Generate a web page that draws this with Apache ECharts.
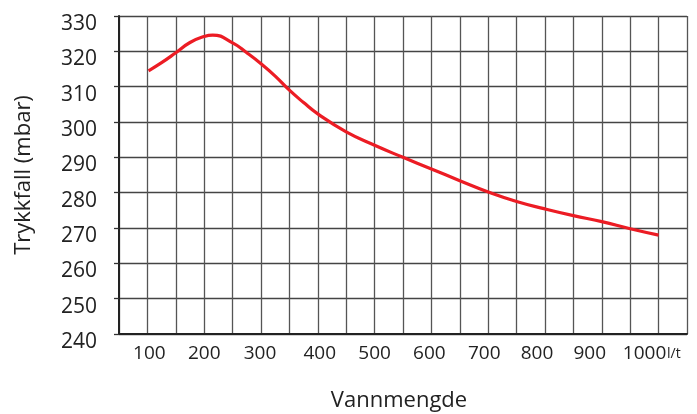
<!DOCTYPE html>
<html>
<head>
<meta charset="utf-8">
<script src="https://cdn.jsdelivr.net/npm/echarts@6/dist/echarts.min.js"></script>
<style>html,body{margin:0;padding:0;background:#fff}#c{width:697px;height:414px}</style>
</head>
<body>
<div id="c"></div>
<script>
var flowValues = [102, 125, 150, 175, 200, 215, 250, 275, 300, 325, 350, 375, 400, 450, 500, 550, 600, 650, 700, 750, 800, 850, 900, 950, 1000];
var pressureValues = [314.5, 316.8, 319.6, 322.5, 324.2, 324.6, 322.4, 319.6, 316.5, 313.0, 309.0, 305.5, 302.3, 297.2, 293.4, 290.0, 286.7, 283.4, 280.2, 277.5, 275.4, 273.5, 271.8, 269.8, 268.0];
var xTickLabels = [100, 200, 300, 400, 500, 600, 700, 800, 900, 1000];
var yTickLabels = [240, 250, 260, 270, 280, 290, 300, 310, 320, 330];

// small horizontal nudges of the x tick labels (pixels), as in the original artwork
var xLabelShift = [2, 0, -1, 2, 0, -2, -4, -8, -12, -14];

var font = 'Open Sans';
var rich = {};
xLabelShift.forEach(function (s, i) {
  rich['o' + i] = {
    fontFamily: font, fontSize: 19, color: '#222',
    padding: s >= 0 ? [0, 0, 0, 2 * s] : [0, -2 * s, 0, 0]
  };
});

var chart = echarts.init(document.getElementById('c'), null, {renderer: 'canvas'});
var points = flowValues.map(function (f, i) { return [f, pressureValues[i]]; });
chart.setOption({
  animation: false,
  grid: {left: 119, right: 10, top: 16, bottom: 80, containLabel: false, outerBoundsMode: 'none'},
  xAxis: {
    type: 'value', min: 50, max: 1050, interval: 50,
    name: 'Vannmengde', nameLocation: 'middle', nameGap: 56,
    nameTextStyle: {fontFamily: font, fontSize: 22, color: '#222', padding: [0, 8, 0, 0]},
    axisLine: {show: true, lineStyle: {color: '#222', width: 2}},
    axisTick: {show: false},
    axisLabel: {
      margin: 10, fontFamily: font, fontSize: 19, color: '#222',
      showMinLabel: true, showMaxLabel: true,
      rich: rich,
      formatter: function (v) {
        var i = xTickLabels.indexOf(v);
        return i >= 0 ? '{o' + i + '|' + v + '}' : '';
      }
    },
    splitLine: {show: true, lineStyle: {color: '#555', width: 1.3}}
  },
  yAxis: {
    type: 'value', min: 240, max: 330, interval: 10,
    name: 'Trykkfall (mbar)', nameLocation: 'middle', nameGap: 84,
    nameTextStyle: {fontFamily: font, fontSize: 22, color: '#222'},
    axisLine: {show: true, lineStyle: {color: '#222', width: 2}},
    axisTick: {show: true, length: 5, lineStyle: {color: '#333', width: 1.3}},
    axisLabel: {
      margin: 22, fontFamily: font, fontSize: 21, color: '#222',
      verticalAlign: 'top', lineHeight: 16,
      formatter: function (v) { return yTickLabels.indexOf(v) >= 0 ? String(v) : ''; }
    },
    splitLine: {show: true, lineStyle: {color: '#444', width: 1.3}}
  },
  graphic: [{
    type: 'text', left: 667, top: 347,
    style: {text: 'l/t', fontFamily: font, fontSize: 14, fill: '#222'}
  }],
  series: [{
    type: 'line', data: points, smooth: 0.5, showSymbol: false,
    lineStyle: {color: '#ec1c24', width: 3.2},
    z: 5
  }]
});
</script>
</body>
</html>
